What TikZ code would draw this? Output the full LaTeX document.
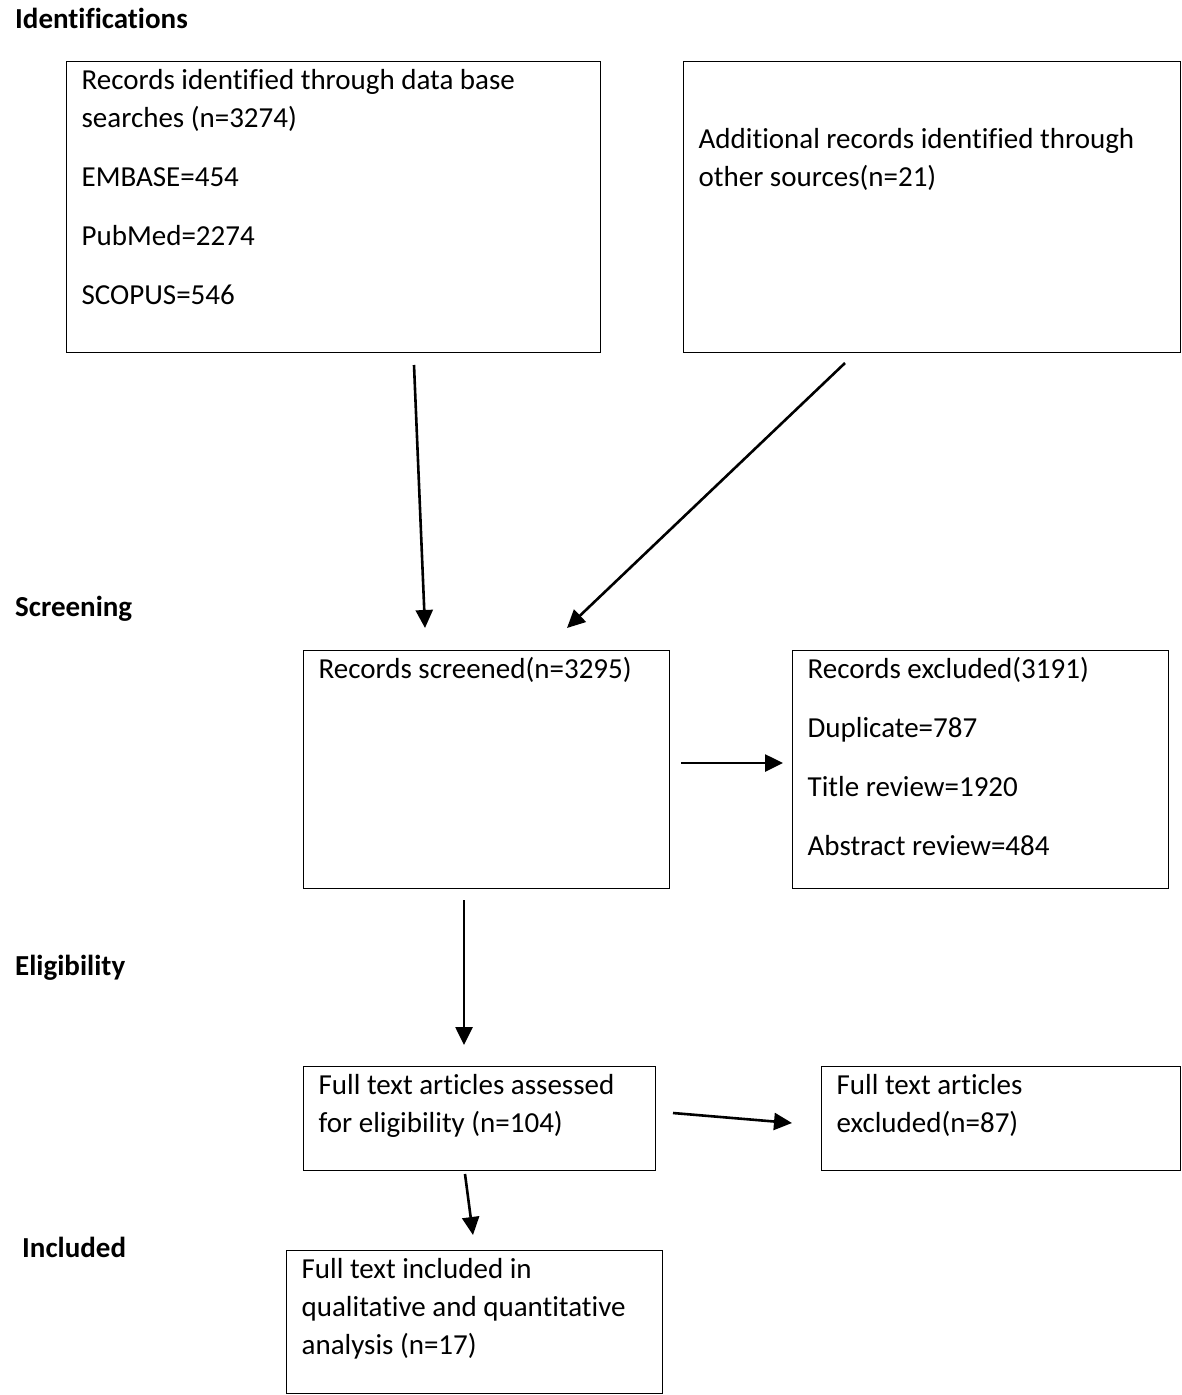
\documentclass[tikz,border=0pt]{standalone}
\usepackage{fontspec}
\setmainfont{Carlito}[Ligatures=NoCommon]
\usepackage{tikz}
\usetikzlibrary{arrows.meta}

\newcommand{\boxtext}[4][28pt]{\parbox[b][#3][t]{#2}{\setlength{\parskip}{21pt}\raggedright\rule{0pt}{#1}\ignorespaces#4}}

\begin{document}
\begin{tikzpicture} [
    x=1pt, y=-1pt,
    every node/.style = {font=\fontsize{29}{38}\selectfont},
    flowbox/.style = {draw, line width=1.3pt, anchor=north west, inner xsep=15pt, inner ysep=0pt},
    stage/.style = {anchor=base west, inner sep=0pt, font=\fontsize{29}{38}\selectfont\bfseries},
    flow/.style = {-{Triangle[length=18pt,width=17pt]}, line width=2.6pt}
]
    \useasboundingbox (0,0) rectangle (1181,1395);

    % stages
    \node[stage] (ident) at (15,28) {Identifications};
    \node[stage] (screen) at (15,616) {Screening};
    \node[stage] (elig) at (15,975) {Eligibility};
    \node[stage] (incl) at (22,1257) {Included};

    % boxes
    \node[flowbox] (dbsearch) at (66,61) {\boxtext{504pt}{291pt}{Records identified through data base\\ searches (n=3274)\par EMBASE=454\par PubMed=2274\par SCOPUS=546}};
    \node[flowbox] (other) at (683,61) {\boxtext[87pt]{467pt}{291pt}{Additional records identified through\\ other sources(n=21)}};
    \node[flowbox] (screened) at (303,650) {\boxtext{336pt}{238pt}{Records screened(n=3295)}};
    \node[flowbox] (excluded) at (792,650) {\boxtext{346pt}{238pt}{Records excluded(3191)\par Duplicate=787\par Title review=1920\par Abstract review=484}};
    \node[flowbox] (assessed) at (303,1066) {\boxtext{322pt}{104pt}{Full text articles assessed\\ for eligibility (n=104)}};
    \node[flowbox] (ftexcl) at (821,1066) {\boxtext{329pt}{104pt}{Full text articles\\ excluded(n=87)}};
    \node[flowbox] (included) at (286,1250) {\boxtext{346pt}{143pt}{Full text included in\\ qualitative and quantitative\\ analysis (n=17)}};

    % arrows
    \coordinate (db-out) at (414,365);
    \coordinate (other-out) at (845,363);
    \coordinate (scr-in) at (425,628);
    \coordinate (scr-in2) at (567,628);
    \coordinate (scr-right) at (681,763);
    \coordinate (exc-in) at (783,763);
    \coordinate (scr-out) at (464,900);
    \coordinate (ass-in) at (464,1045);
    \coordinate (ass-right) at (673,1113);
    \coordinate (ftexcl-in) at (792,1123);
    \coordinate (ass-out) at (465,1174);
    \coordinate (inc-in) at (473,1235);

    \draw[flow] (db-out) -- (scr-in);
    \draw[flow] (other-out) -- (scr-in2);
    \draw[flow] (scr-right) -- (exc-in);
    \draw[flow] (scr-out) -- (ass-in);
    \draw[flow] (ass-right) -- (ftexcl-in);
    \draw[flow] (ass-out) -- (inc-in);
\end{tikzpicture}
\end{document}
